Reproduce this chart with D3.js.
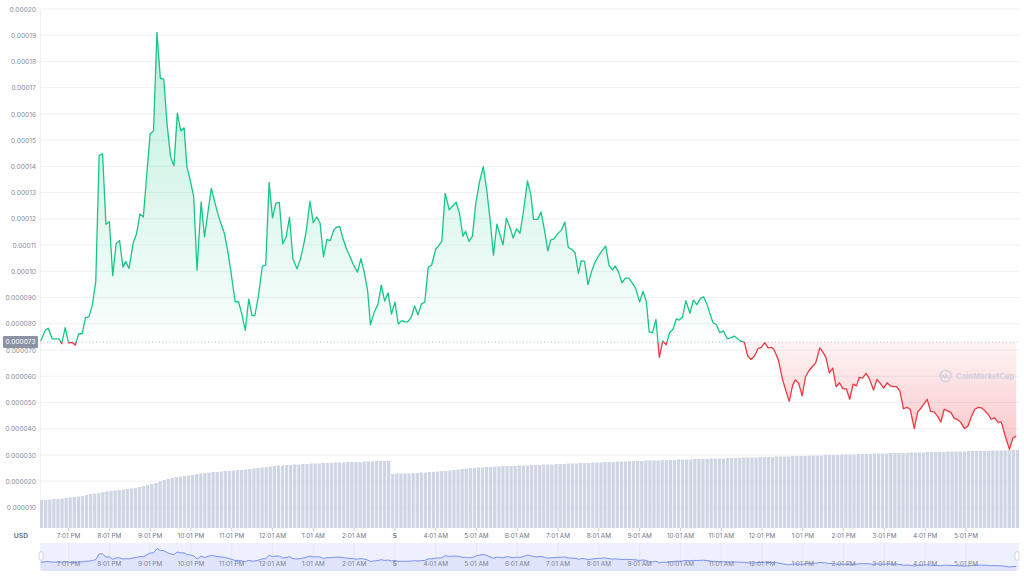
<!DOCTYPE html>
<html>
<head>
<meta charset="UTF-8">
<title>Price chart</title>
<script src="https://d3js.org/d3.v7.min.js"></script>
<style>
  body { margin: 0; background: #fff; }
  svg { display: block; font-family: Inter, "Noto Sans", sans-serif; }
</style>
</head>
<body>
<svg id="chart" width="1024" height="576"></svg>
<script>
// minutes since the first sample (about 6:19 PM)
const minutes = [
  1, 8, 12, 18, 28, 32, 37, 42, 47, 52, 57, 62, 67, 72, 77, 82, 87, 92, 97, 102,
  107, 112, 117, 122, 126, 131, 137, 142, 147, 152, 157, 162, 167, 172, 177, 182, 187, 192, 197, 202,
  207, 212, 216, 221, 226, 231, 237, 242, 247, 252, 257, 262, 266, 271, 276, 281, 287, 292, 297, 302,
  307, 312, 316, 321, 327, 332, 337, 342, 347, 352, 357, 362, 367, 372, 378, 383, 388, 392, 397, 402,
  407, 412, 417, 422, 427, 432, 436, 441, 446, 451, 456, 461, 467, 472, 477, 482, 486, 492, 497, 502,
  507, 512, 517, 522, 527, 532, 536, 541, 546, 551, 556, 561, 566, 571, 576, 582, 586, 591, 596, 602,
  607, 612, 617, 622, 626, 631, 636, 641, 646, 652, 657, 662, 667, 672, 676, 681, 686, 691, 696, 701,
  706, 711, 717, 722, 726, 732, 737, 742, 747, 751, 756, 761, 767, 772, 777, 782, 787, 792, 796, 801,
  806, 811, 816, 821, 826, 832, 837, 842, 846, 851, 856, 861, 866, 871, 876, 882, 887, 892, 896, 901,
  906, 911, 916, 921, 926, 931, 936, 940, 945, 950, 956, 961, 966, 971, 976, 981, 986, 990, 995, 1000,
  1005, 1011, 1016, 1021, 1026, 1031, 1036, 1041, 1046, 1051, 1056, 1061, 1066, 1071, 1076, 1080, 1086, 1092, 1097, 1102,
  1107, 1111, 1116, 1121, 1126, 1131, 1136, 1141, 1147, 1152, 1156, 1161, 1166, 1171, 1176, 1181, 1186, 1191, 1196, 1201,
  1205, 1210, 1215, 1220, 1226, 1231, 1236, 1241, 1246, 1251, 1255, 1260, 1265, 1270, 1275, 1280, 1286, 1291, 1296, 1300,
  1305, 1310, 1315, 1320, 1325, 1330, 1335, 1340, 1345, 1349, 1354, 1360, 1365, 1370, 1375, 1380, 1385, 1390, 1395, 1399,
  1404, 1409, 1414, 1420, 1426, 1431, 1436
];

// price in millionths of a USD
const priceMicro = [
  73.4, 77.6, 78.3, 74.2, 74.2, 72.4, 78.5, 72.7, 72.9, 71.9, 76.2, 76.2, 82.3, 82.6, 87.1, 96.0, 144.1, 144.8, 117.9, 118.9,
  98.3, 110.5, 111.8, 101.6, 103.7, 101.1, 110.8, 114.3, 121.9, 120.7, 136.7, 152.4, 153.5, 191.1, 173.6, 173.3, 155.8, 143.8, 140.2, 160.3,
  153.5, 154.7, 140.0, 134.7, 128.6, 100.4, 126.5, 113.1, 122.5, 131.6, 126.5, 121.5, 118.4, 114.6, 108.0, 99.6, 88.4, 88.4, 83.6, 77.5,
  89.4, 83.1, 83.1, 90.2, 101.9, 102.4, 133.9, 120.4, 126.0, 126.3, 110.5, 113.1, 120.6, 104.8, 101.0, 104.6, 110.4, 116.0, 126.7, 118.5,
  120.8, 118.3, 105.6, 112.2, 111.7, 115.7, 116.8, 117.0, 112.2, 108.4, 105.6, 102.5, 99.7, 104.8, 99.7, 92.4, 79.6, 84.7, 87.3, 94.7,
  88.6, 91.8, 83.7, 88.3, 79.9, 81.2, 80.7, 80.7, 82.5, 86.8, 83.4, 87.5, 88.3, 101.5, 102.3, 108.4, 109.6, 111.4, 129.7, 123.4,
  124.9, 126.4, 122.1, 113.4, 115.2, 111.4, 113.4, 125.9, 133.5, 139.9, 131.2, 119.8, 106.1, 118.0, 114.5, 110.1, 120.3, 117.0, 112.7, 116.2,
  114.5, 122.6, 134.5, 129.1, 119.8, 119.8, 122.6, 115.7, 107.8, 111.9, 112.4, 114.2, 115.7, 118.8, 109.1, 108.4, 107.1, 99.2, 104.0, 103.8,
  94.9, 99.7, 103.3, 105.6, 107.6, 109.6, 102.3, 100.5, 102.0, 99.7, 95.6, 97.4, 97.4, 95.6, 93.6, 88.3, 92.4, 88.3, 76.9, 76.6,
  81.7, 67.2, 73.5, 72.0, 76.6, 77.9, 81.9, 81.4, 82.5, 88.8, 84.0, 89.0, 87.3, 89.5, 90.3, 87.5, 83.4, 80.4, 79.6, 76.6,
  77.3, 74.3, 74.6, 75.3, 74.3, 73.3, 73.0, 67.7, 66.4, 67.7, 70.5, 71.0, 72.8, 70.8, 71.0, 70.0, 66.2, 59.0, 54.5, 50.4,
  56.5, 58.6, 57.3, 52.5, 59.8, 62.1, 63.6, 65.1, 70.8, 69.0, 67.2, 61.3, 63.1, 56.0, 57.5, 55.2, 55.2, 51.2, 57.0, 56.3,
  59.6, 59.3, 61.1, 59.0, 54.7, 58.8, 57.3, 55.5, 57.5, 56.3, 56.0, 56.0, 54.2, 47.6, 48.1, 47.4, 40.0, 46.4, 47.9, 49.4,
  51.2, 46.6, 46.4, 44.8, 42.5, 47.4, 46.8, 46.1, 43.8, 43.6, 42.5, 40.0, 41.0, 44.6, 47.4, 48.1, 47.9, 46.8, 45.3, 43.6,
  44.1, 42.5, 42.5, 36.9, 32.1, 36.4, 37.2
];

// 24h volume, one bar every 6 minutes (millions USD)
const volumes = [
  1.12, 1.12, 1.14, 1.16, 1.16, 1.18, 1.20, 1.22, 1.24, 1.26,
  1.28, 1.32, 1.36, 1.38, 1.40, 1.44, 1.46, 1.48, 1.50, 1.52,
  1.54, 1.56, 1.58, 1.60, 1.64, 1.68, 1.72, 1.76, 1.80, 1.86,
  1.92, 1.96, 2.00, 2.04, 2.06, 2.08, 2.10, 2.12, 2.16, 2.18,
  2.20, 2.22, 2.24, 2.24, 2.26, 2.28, 2.28, 2.30, 2.32, 2.32,
  2.34, 2.36, 2.38, 2.40, 2.42, 2.44, 2.46, 2.48, 2.50, 2.50,
  2.52, 2.52, 2.54, 2.54, 2.56, 2.56, 2.58, 2.58, 2.58, 2.60,
  2.60, 2.60, 2.62, 2.62, 2.62, 2.64, 2.64, 2.64, 2.64, 2.66,
  2.66, 2.66, 2.68, 2.68, 2.68, 2.68, 2.16, 2.18, 2.18, 2.18,
  2.18, 2.20, 2.20, 2.22, 2.22, 2.24, 2.24, 2.26, 2.28, 2.28,
  2.30, 2.32, 2.34, 2.36, 2.38, 2.40, 2.40, 2.42, 2.42, 2.44,
  2.44, 2.46, 2.46, 2.48, 2.48, 2.48, 2.48, 2.50, 2.50, 2.50,
  2.52, 2.52, 2.52, 2.54, 2.54, 2.54, 2.56, 2.56, 2.56, 2.58,
  2.58, 2.58, 2.60, 2.60, 2.60, 2.62, 2.62, 2.62, 2.64, 2.64,
  2.64, 2.66, 2.66, 2.66, 2.68, 2.68, 2.68, 2.68, 2.70, 2.70,
  2.70, 2.70, 2.72, 2.72, 2.72, 2.72, 2.74, 2.74, 2.74, 2.74,
  2.76, 2.76, 2.76, 2.76, 2.78, 2.78, 2.78, 2.78, 2.80, 2.80,
  2.80, 2.80, 2.82, 2.82, 2.82, 2.82, 2.84, 2.84, 2.84, 2.84,
  2.86, 2.86, 2.86, 2.86, 2.88, 2.88, 2.88, 2.88, 2.90, 2.90,
  2.90, 2.90, 2.92, 2.92, 2.92, 2.92, 2.94, 2.94, 2.94, 2.94,
  2.96, 2.96, 2.96, 2.96, 2.98, 2.98, 2.98, 2.98, 3.00, 3.00,
  3.00, 3.00, 3.00, 3.02, 3.02, 3.02, 3.02, 3.04, 3.04, 3.04,
  3.04, 3.04, 3.06, 3.06, 3.06, 3.06, 3.06, 3.08, 3.08, 3.08,
  3.08, 3.08, 3.08, 3.10, 3.10, 3.10, 3.10, 3.12, 3.12, 3.12
];

const timeLabels = [
  "7:01 PM", "8:01 PM", "9:01 PM", "10:01 PM", "11:01 PM", "12:01 AM", "1:01 AM", "2:01 AM",
  "5", "4:01 AM", "5:01 AM", "6:01 AM", "7:01 AM", "8:01 AM", "9:01 AM", "10:01 AM", "11:01 AM",
  "12:01 PM", "1:01 PM", "2:01 PM", "3:01 PM", "4:01 PM", "5:01 PM"
];
const firstTickMinute = 42;   // 7:01 PM
const openPrice = 0.000073;   // baseline (price 24h ago)
const priceTicks = d3.range(1, 21).map(d => d * 1e-5);

const data = minutes.map((m, i) => ({ m: m, p: priceMicro[i] * 1e-6 }));
const tickMinutes = timeLabels.map((_, i) => firstTickMinute + i * 60);

const svg = d3.select("#chart");
const plotLeft = 40, plotRight = 1019, plotTop = 9, volBottom = 528;

const x = d3.scaleLinear().domain([0, 1440]).range([plotLeft, plotRight]);
const y = d3.scaleLinear().domain([0, 0.0002]).range([533.6, plotTop]);
const yVol = d3.scaleLinear().domain([0, 4]).range([volBottom, volBottom - 100]);
const xBar = d3.scaleBand().domain(d3.range(volumes.length)).range([plotLeft, plotRight]).paddingInner(0.2);

const fmt5 = d3.format(".5f"), fmt6 = d3.format(".6f");
const priceFmt = v => v >= 0.0001 - 1e-12 ? fmt5(v) : fmt6(v);

// gradients
const defs = svg.append("defs");
const gUp = defs.append("linearGradient").attr("id", "gUp")
  .attr("gradientUnits", "userSpaceOnUse").attr("x1", 0).attr("x2", 0)
  .attr("y1", y(0.00019)).attr("y2", y(openPrice));
gUp.append("stop").attr("offset", 0).attr("stop-color", "#16c784").attr("stop-opacity", 0.28);
gUp.append("stop").attr("offset", 1).attr("stop-color", "#16c784").attr("stop-opacity", 0.02);
const gDown = defs.append("linearGradient").attr("id", "gDown")
  .attr("gradientUnits", "userSpaceOnUse").attr("x1", 0).attr("x2", 0)
  .attr("y1", y(openPrice)).attr("y2", y(0.00003));
gDown.append("stop").attr("offset", 0).attr("stop-color", "#ea3943").attr("stop-opacity", 0.06);
gDown.append("stop").attr("offset", 1).attr("stop-color", "#ea3943").attr("stop-opacity", 0.3);

defs.append("clipPath").attr("id", "clipUp").append("rect")
  .attr("x", plotLeft).attr("y", 0).attr("width", plotRight - plotLeft).attr("height", y(openPrice));
defs.append("clipPath").attr("id", "clipDown").append("rect")
  .attr("x", plotLeft).attr("y", y(openPrice)).attr("width", plotRight - plotLeft).attr("height", volBottom - y(openPrice));

// grid
svg.append("g").selectAll("line").data(priceTicks).join("line")
  .attr("x1", plotLeft).attr("x2", plotRight)
  .attr("y1", d => y(d)).attr("y2", d => y(d))
  .attr("stroke", "#eff1f4").attr("stroke-width", 1);
svg.append("line").attr("x1", plotLeft + 0.5).attr("x2", plotLeft + 0.5)
  .attr("y1", plotTop).attr("y2", volBottom).attr("stroke", "#eff1f4");

// y axis labels
const yAxis = svg.append("g").attr("transform", `translate(36,0)`)
  .call(d3.axisLeft(y).tickValues(priceTicks).tickFormat(priceFmt).tickSize(0).tickPadding(0));
yAxis.select(".domain").remove();
yAxis.selectAll("text").attr("fill", "#858ca0").attr("font-size", 6.6).attr("font-family", "Inter, sans-serif");

// volume bars
svg.append("g").selectAll("rect").data(volumes).join("rect")
  .attr("x", (d, i) => xBar(i))
  .attr("width", xBar.bandwidth())
  .attr("y", d => yVol(d))
  .attr("height", d => volBottom - yVol(d))
  .attr("fill", "#cfd5e3");

// price areas and lines
const area = d3.area().x(d => x(d.m)).y0(y(openPrice)).y1(d => y(d.p));
const line = d3.line().x(d => x(d.m)).y(d => y(d.p));

svg.append("path").datum(data).attr("d", area).attr("fill", "url(#gUp)").attr("clip-path", "url(#clipUp)");
svg.append("path").datum(data).attr("d", area).attr("fill", "url(#gDown)").attr("clip-path", "url(#clipDown)");

// baseline
svg.append("line").attr("x1", plotLeft).attr("x2", plotRight)
  .attr("y1", y(openPrice)).attr("y2", y(openPrice))
  .attr("stroke", "#a6adbb").attr("stroke-width", 0.8).attr("stroke-dasharray", "1,2.5");

svg.append("path").datum(data).attr("d", line).attr("fill", "none")
  .attr("stroke", "#16c784").attr("stroke-width", 1.3).attr("stroke-linejoin", "round")
  .attr("clip-path", "url(#clipUp)");
svg.append("path").datum(data).attr("d", line).attr("fill", "none")
  .attr("stroke", "#ea3943").attr("stroke-width", 1.3).attr("stroke-linejoin", "round")
  .attr("clip-path", "url(#clipDown)");

// baseline label
svg.append("rect").attr("x", 3).attr("y", y(openPrice) - 6).attr("width", 35).attr("height", 12)
  .attr("rx", 1).attr("fill", "#8a92a3");
svg.append("text").attr("x", 35.5).attr("y", y(openPrice)).attr("dy", "0.35em")
  .attr("text-anchor", "end").attr("fill", "#fff").attr("font-size", 6.6)
  .text(fmt6(openPrice));

// watermark
const wm = svg.append("g").attr("transform", "translate(945.5,376)").attr("opacity", 0.9);
wm.append("circle").attr("r", 5.6).attr("fill", "none").attr("stroke", "#c9cfdb").attr("stroke-width", 1.4);
wm.append("path").attr("d", "M-3.2,2.2 L-3.2,-1.6 L-1,1.6 L1,-1.6 L1,1.4 Q2.6,2.6 3.6,0.8")
  .attr("fill", "none").attr("stroke", "#c9cfdb").attr("stroke-width", 1.3).attr("stroke-linejoin", "round");
wm.append("text").attr("x", 10.5).attr("y", 0).attr("dy", "0.36em")
  .attr("fill", "#c9cfdb").attr("font-size", 7.4).attr("font-weight", 600)
  .attr("textLength", 58).attr("lengthAdjust", "spacingAndGlyphs").text("CoinMarketCap");

// x axis
const xTicks = svg.append("g");
xTicks.selectAll("line").data(tickMinutes).join("line")
  .attr("x1", d => x(d)).attr("x2", d => x(d))
  .attr("y1", volBottom).attr("y2", volBottom + 3)
  .attr("stroke", "#c9ced8");
xTicks.selectAll("text").data(timeLabels).join("text")
  .attr("x", (d, i) => x(tickMinutes[i])).attr("y", 536).attr("dy", "0.35em")
  .attr("text-anchor", "middle").attr("fill", "#6f778a")
  .attr("font-size", 6.4).attr("font-weight", d => d === "5" ? 700 : 400)
  .text(d => d);
svg.append("text").attr("x", 21).attr("y", 536).attr("dy", "0.35em").attr("text-anchor", "middle")
  .attr("fill", "#6f778a").attr("font-size", 6.8).attr("font-weight", 700).text("USD");

// navigator
const navTop = 543, navBottom = 571;
const yNav = d3.scaleLinear().domain(d3.extent(data, d => d.p)).range([567, 548.5]);
svg.append("rect").attr("x", plotLeft).attr("y", navTop).attr("width", plotRight - plotLeft).attr("height", navBottom - navTop)
  .attr("fill", "#eef0fd");
svg.append("g").selectAll("line").data(tickMinutes).join("line")
  .attr("x1", d => x(d)).attr("x2", d => x(d)).attr("y1", navTop).attr("y2", navBottom)
  .attr("stroke", "#e2e6f6");
svg.append("path").datum(data)
  .attr("d", d3.area().x(d => x(d.m)).y0(navBottom).y1(d => yNav(d.p)))
  .attr("fill", "#dfe4fb");
svg.append("path").datum(data)
  .attr("d", d3.line().x(d => x(d.m)).y(d => yNav(d.p)))
  .attr("fill", "none").attr("stroke", "#7990f0").attr("stroke-width", 1);
svg.append("g").selectAll("text").data(timeLabels).join("text")
  .attr("x", (d, i) => x(tickMinutes[i])).attr("y", 563.5).attr("dy", "0.35em")
  .attr("text-anchor", "middle").attr("fill", "#7d8496")
  .attr("font-size", 6.4).attr("font-weight", d => d === "5" ? 700 : 400)
  .text(d => d);
[plotLeft + 1, plotRight - 2].forEach(hx => {
  svg.append("rect").attr("x", hx - 2).attr("y", 552).attr("width", 4).attr("height", 8)
    .attr("rx", 1.2).attr("fill", "#fff").attr("stroke", "#b7bdca").attr("stroke-width", 0.6);
});
</script>
</body>
</html>
